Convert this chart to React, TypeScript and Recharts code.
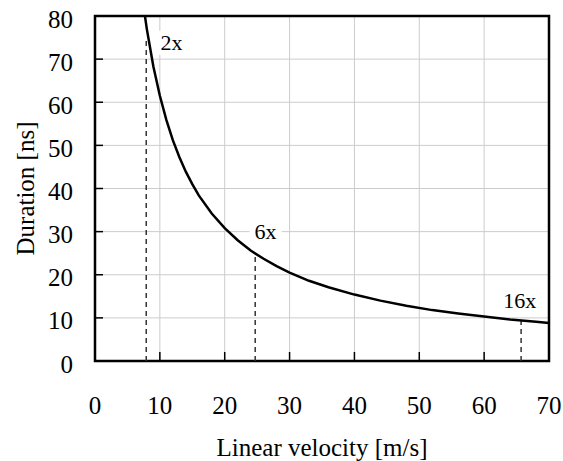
import {
  LineChart,
  Line,
  XAxis,
  YAxis,
  CartesianGrid,
  ReferenceLine,
  ReferenceArea,
  ReferenceDot,
  Label,
} from "recharts";

const velocity = [
  7.7, 8, 9, 10, 11, 12, 13, 14, 15, 16, 18, 20, 22, 24, 26, 28, 30, 33, 36,
  40, 44, 48, 52, 56, 60, 64, 68, 70,
];
const duration = [
  80, 76.9, 68.3, 61.5, 55.9, 51.2, 47.3, 43.9, 41, 38.4, 34.2, 30.8, 28,
  25.6, 23.7, 22, 20.5, 18.6, 17.1, 15.4, 14, 12.8, 11.8, 11, 10.3, 9.6, 9.1,
  8.8,
];

const markerNames = ["2x", "6x", "16x"];
const markerVelocity = [7.9, 24.7, 65.7];
const markerDuration = [75, 25, 9.4];
const labelVelocity = [11.8, 26.3, 65.5];
const labelDuration = [73.8, 30, 14.1];

const xTicks = [0, 10, 20, 30, 40, 50, 60, 70];
const yTicks = [0, 10, 20, 30, 40, 50, 60, 70, 80];

const serif = { fontFamily: '"Liberation Serif", "DejaVu Serif", serif' };

const rows = velocity.map((v, i) => ({ v, d: duration[i] }));

function XTick({ x, y, payload }: any) {
  const inner = payload.value > 0 && payload.value < 70;
  return (
    <g>
      {inner && <line x1={x} x2={x} y1={y} y2={y - 9} stroke="#000" strokeWidth={1.5} />}
      <text
        x={x}
        y={y + 44}
        textAnchor="middle"
        dominantBaseline="central"
        style={serif}
        fontSize={25}
        fill="#000"
      >
        {payload.value}
      </text>
    </g>
  );
}

function YTick({ x, y, payload }: any) {
  const inner = payload.value > 0 && payload.value < 80;
  return (
    <g>
      {inner && <line x1={x} x2={x + 8} y1={y} y2={y} stroke="#000" strokeWidth={1.5} />}
      <text
        x={x - 22}
        y={y + 3}
        textAnchor="end"
        dominantBaseline="central"
        style={serif}
        fontSize={25}
        fill="#000"
      >
        {payload.value}
      </text>
    </g>
  );
}

function MarkerLabel(name: string) {
  return ({ cx, cy }: any) => {
    const w = name.length * 11 + 10;
    return (
      <g>
        <rect x={cx - w / 2} y={cy - 12} width={w} height={24} fill="#fff" />
        <text
          x={cx}
          y={cy}
          textAnchor="middle"
          dominantBaseline="central"
          style={serif}
          fontSize={22}
          fill="#000"
        >
          {name}
        </text>
      </g>
    );
  };
}

export default function App() {
  return (
    <div style={{ position: "absolute", left: 0, top: 0 }}>
      <LineChart
        width={563}
        height={461}
        data={rows}
        margin={{ top: 16, right: 14, left: 0, bottom: 0 }}
      >
        <CartesianGrid stroke="#cccccc" strokeWidth={1} />
        <XAxis
          type="number"
          dataKey="v"
          domain={[0, 70]}
          ticks={xTicks}
          interval={0}
          height={100}
          axisLine={false}
          tickLine={false}
          tickSize={0}
          tickMargin={0}
          tick={<XTick />}
        >
          <Label
            content={({ viewBox }: any) => (
              <text
                x={viewBox.x + viewBox.width / 2}
                y={viewBox.y + 86}
                textAnchor="middle"
                dominantBaseline="central"
                style={serif}
                fontSize={25}
                fill="#000"
              >
                Linear velocity [m/s]
              </text>
            )}
          />
        </XAxis>
        <YAxis
          type="number"
          domain={[0, 80]}
          ticks={yTicks}
          interval={0}
          width={95}
          axisLine={false}
          tickLine={false}
          tickSize={0}
          tickMargin={0}
          tick={<YTick />}
        >
          <Label
            content={({ viewBox }: any) => {
              const cx = 25;
              const cy = viewBox.y + viewBox.height / 2;
              return (
                <text
                  x={cx}
                  y={cy}
                  transform={`rotate(-90, ${cx}, ${cy})`}
                  textAnchor="middle"
                  dominantBaseline="central"
                  style={serif}
                  fontSize={25}
                  fill="#000"
                >
                  Duration [ns]
                </text>
              );
            }}
          />
        </YAxis>
        {markerVelocity.map((mv, i) => (
          <ReferenceLine
            key={`m${i}`}
            segment={[
              { x: mv, y: 0 },
              { x: mv, y: markerDuration[i] },
            ]}
            stroke="#333"
            strokeWidth={1.5}
            strokeDasharray="5 4"
          />
        ))}
        <Line
          type="linear"
          dataKey="d"
          stroke="#000"
          strokeWidth={2.5}
          dot={false}
          isAnimationActive={false}
        />
        {markerNames.map((name, i) => (
          <ReferenceDot
            key={name}
            x={labelVelocity[i]}
            y={labelDuration[i]}
            r={0}
            shape={MarkerLabel(name)}
          />
        ))}
        <ReferenceArea
          x1={0}
          x2={70}
          y1={0}
          y2={80}
          fill="none"
          stroke="#000"
          strokeWidth={2.5}
        />
      </LineChart>
    </div>
  );
}
